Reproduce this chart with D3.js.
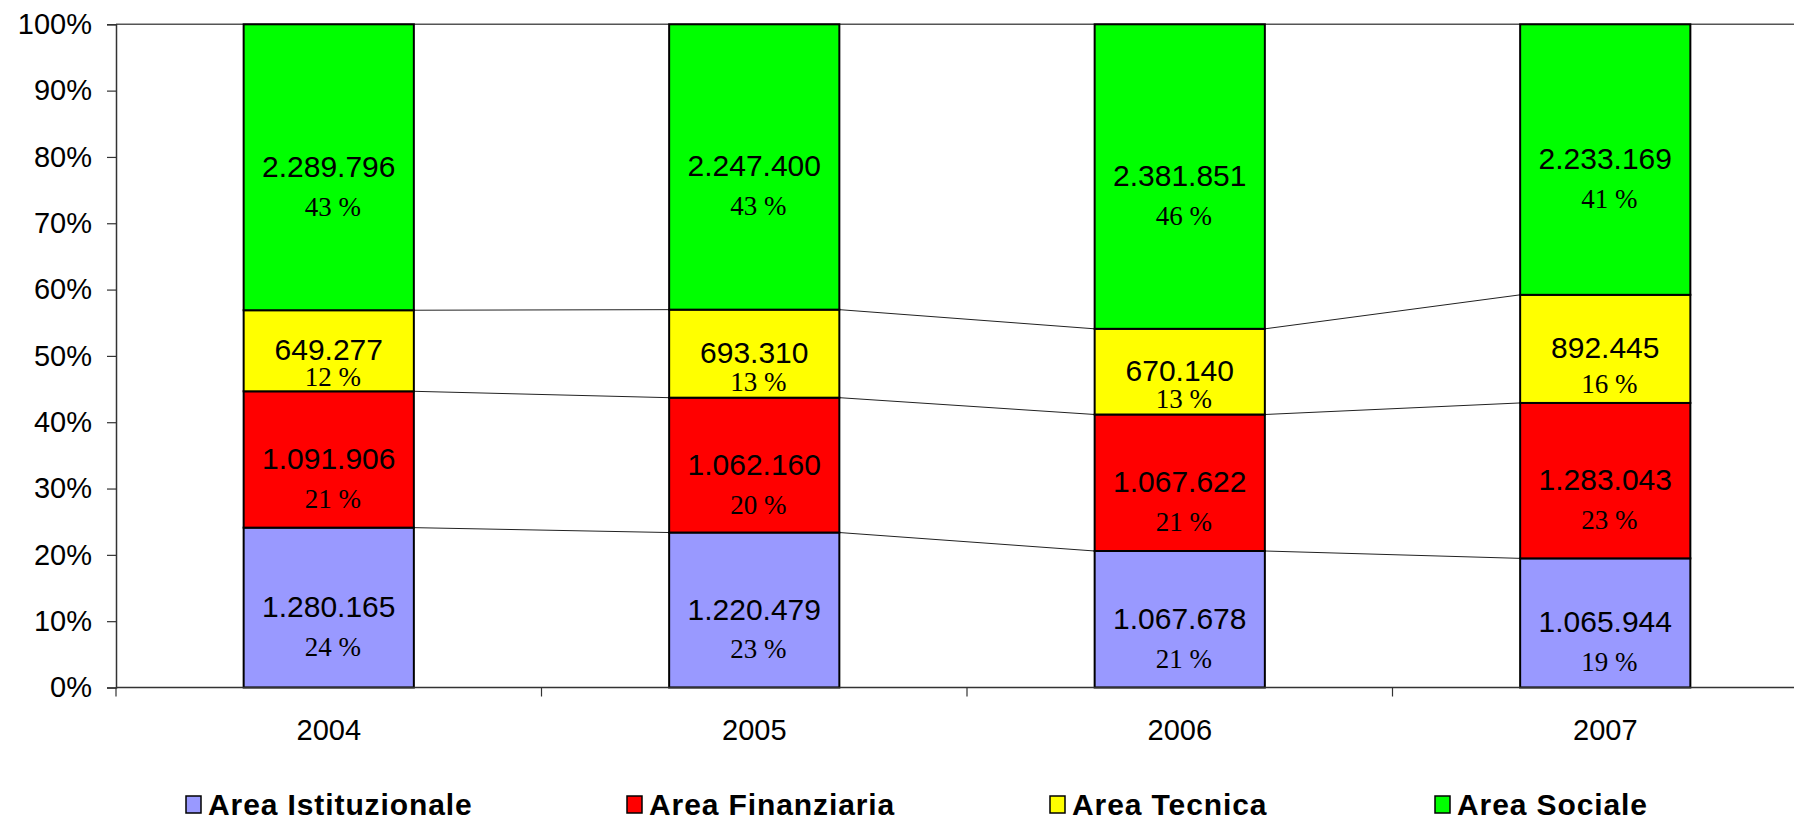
<!DOCTYPE html>
<html>
<head>
<meta charset="utf-8">
<script src="https://cdn.jsdelivr.net/npm/d3@7/dist/d3.min.js"></script>
<style>
  html, body { margin: 0; padding: 0; background: #fff; }
  svg { display: block; }
</style>
</head>
<body>
<svg id="chart" width="1794" height="821"></svg>
<script>
// ---- data ----
const years = ["2004", "2005", "2006", "2007"];
const seriesNames = ["Area Istituzionale", "Area Finanziaria", "Area Tecnica", "Area Sociale"];
const istituzionale = [1280165, 1220479, 1067678, 1065944];
const finanziaria   = [1091906, 1062160, 1067622, 1283043];
const tecnica       = [649277, 693310, 670140, 892445];
const sociale       = [2289796, 2247400, 2381851, 2233169];
const yTicks = [0, 0.1, 0.2, 0.3, 0.4, 0.5, 0.6, 0.7, 0.8, 0.9, 1.0];
const seriesColors = ["#9999FF", "#FF0000", "#FFFF00", "#00FF00"];

// ---- layout ----
const W = 1794, H = 821;
const x0 = 116, x1 = 1818;   // plot extends past right edge (cropped)
const yTop = 24.3, yBot = 687.5;

const svg = d3.select("#chart");
const it = d3.formatLocale({decimal: ",", thousands: ".", grouping: [3], currency: ["", "€"]});
const fmtNum = it.format(",d");

const seriesValues = [istituzionale, finanziaria, tecnica, sociale];
const rows = years.map((yr, i) => {
  const r = {year: yr};
  seriesNames.forEach((s, j) => r[s] = seriesValues[j][i]);
  r.total = d3.sum(seriesValues, v => v[i]);
  return r;
});
const stacked = d3.stack().keys(seriesNames).offset(d3.stackOffsetExpand)(rows);

const x = d3.scaleBand().domain(years).range([x0, x1]).paddingInner(0.6).paddingOuter(0.3);
const y = d3.scaleLinear().domain([0, 1]).range([yBot, yTop]);
const color = d3.scaleOrdinal().domain(seriesNames).range(seriesColors);

// top border of plot
svg.append("line").attr("x1", x0).attr("x2", W).attr("y1", y(1)).attr("y2", y(1))
  .attr("stroke", "#555").attr("stroke-width", 1.5);

// series lines between bars
stacked.slice(0, 3).forEach(layer => {
  for (let i = 0; i < years.length - 1; i++) {
    svg.append("line")
      .attr("x1", x(years[i]) + x.bandwidth())
      .attr("y1", y(layer[i][1]))
      .attr("x2", x(years[i + 1]))
      .attr("y2", y(layer[i + 1][1]))
      .attr("stroke", "#222").attr("stroke-width", 1);
  }
});

// bars
const layers = svg.append("g").selectAll("g").data(stacked).join("g")
  .attr("fill", d => color(d.key));
layers.selectAll("rect").data(d => d).join("rect")
  .attr("x", d => x(d.data.year))
  .attr("width", x.bandwidth())
  .attr("y", d => y(d[1]))
  .attr("height", d => y(d[0]) - y(d[1]))
  .attr("stroke", "#000").attr("stroke-width", 2);

// labels
const labG = svg.append("g");
stacked.forEach(layer => {
  layer.forEach(d => {
    const cx = x(d.data.year) + x.bandwidth() / 2;
    const top = y(d[1]), bot = y(d[0]);
    const h = bot - top;
    const cy = (top + bot) / 2;
    const off = Math.min(40, h * 0.33);
    const v = d.data[layer.key];
    labG.append("text")
      .attr("x", cx).attr("y", cy - 1).attr("dy", "0.35em")
      .attr("text-anchor", "middle")
      .attr("font-family", "'Liberation Sans', Arial, sans-serif")
      .attr("font-size", 30).attr("fill", "#000")
      .text(fmtNum(v));
    labG.append("text")
      .attr("x", cx + 4).attr("y", cy - 1 + off).attr("dy", "0.35em")
      .attr("text-anchor", "middle")
      .attr("font-family", "'Liberation Serif', 'Times New Roman', serif")
      .attr("font-size", 27).attr("fill", "#000")
      .text(Math.round(v / d.data.total * 100) + " %");
  });
});

// y axis
const yAxis = d3.axisLeft(y).tickValues(yTicks).tickFormat(d3.format(".0%")).tickSize(9).tickPadding(15);
const gy = svg.append("g").attr("transform", `translate(${x0},0)`).call(yAxis);
gy.select(".domain").attr("stroke", "#333").attr("stroke-width", 1.5);
gy.selectAll(".tick line").attr("stroke", "#333").attr("stroke-width", 1.2);
gy.selectAll("text").attr("font-family", "'Liberation Sans', Arial, sans-serif")
  .attr("font-size", 29).attr("fill", "#000");

// x axis
svg.append("line").attr("x1", x0).attr("x2", W).attr("y1", yBot).attr("y2", yBot)
  .attr("stroke", "#333").attr("stroke-width", 1.5);
years.forEach(yr => {
  const bx = x(yr) - x.step() * 0.3;
  svg.append("line").attr("x1", bx).attr("x2", bx).attr("y1", yBot).attr("y2", yBot + 9)
    .attr("stroke", "#333").attr("stroke-width", 1.2);
});
const xAxis = d3.axisBottom(x).tickSize(0).tickPadding(0);
const gx = svg.append("g").attr("transform", `translate(0,${yBot})`).call(xAxis);
gx.select(".domain").remove();
gx.selectAll("text").attr("y", 42).attr("dy", "0.35em")
  .attr("font-family", "'Liberation Sans', Arial, sans-serif")
  .attr("font-size", 29).attr("fill", "#000");

// legend
const legendX = [186, 627, 1050, 1435];
const legY = 804;
const lg = svg.append("g");
seriesNames.forEach((s, i) => {
  const g = lg.append("g").attr("transform", `translate(${legendX[i]},${legY})`);
  g.append("rect").attr("x", 0).attr("y", -8).attr("width", 15).attr("height", 17)
    .attr("fill", color(s)).attr("stroke", "#000").attr("stroke-width", 1.5);
  g.append("text").attr("x", 22).attr("y", 0).attr("dy", "0.36em")
    .attr("font-family", "'Liberation Sans', Arial, sans-serif")
    .attr("font-weight", "bold").attr("font-size", 30).attr("letter-spacing", 0.9)
    .attr("fill", "#000")
    .text(s);
});
</script>
</body>
</html>
